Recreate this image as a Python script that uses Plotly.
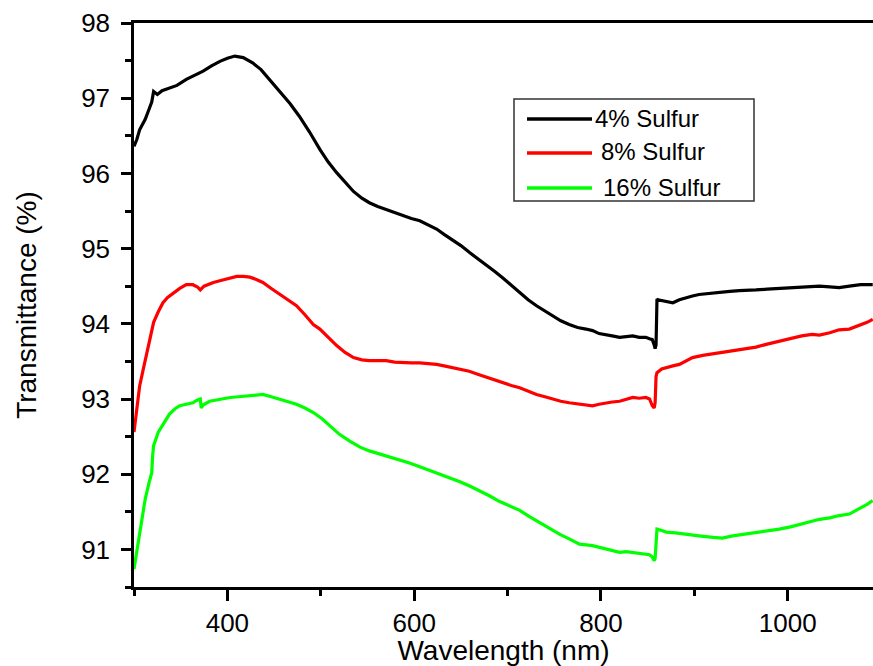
import plotly.graph_objects as go

# ---- data ----
wl_4 = [300, 303, 306, 309, 312, 316, 319, 321, 325, 330, 338, 346, 356, 365, 374, 383, 392, 400, 408, 417,
        427, 436, 445, 456, 467, 477, 488, 499, 508, 517, 526, 535, 544, 552, 561, 570, 579, 588, 597, 606,
        615, 624, 632, 641, 650, 659, 668, 677, 686, 695, 704, 713, 722, 731, 740, 748, 757, 766, 775, 784,
        791, 798, 805, 812, 820, 827, 834, 841, 848, 852, 855, 857, 858, 859, 860, 861, 865, 870, 877, 884,
        891, 898, 905, 916, 927, 938, 948, 957, 966, 978, 991, 1003, 1015, 1026, 1034, 1045, 1055, 1066, 1078, 1091]
t_4 = [96.36, 96.45, 96.58, 96.65, 96.72, 96.85, 96.95, 97.09, 97.05, 97.10, 97.14, 97.17, 97.25, 97.30, 97.36,
       97.43, 97.49, 97.53, 97.56, 97.54, 97.47, 97.38, 97.25, 97.10, 96.93, 96.76, 96.55, 96.32, 96.15, 96.01,
       95.88, 95.76, 95.67, 95.61, 95.56, 95.52, 95.47, 95.43, 95.40, 95.37, 95.32, 95.26, 95.19, 95.12, 95.04,
       94.95, 94.87, 94.79, 94.70, 94.61, 94.51, 94.41, 94.32, 94.24, 94.17, 94.10, 94.04, 93.99, 93.95, 93.93,
       93.91, 93.87, 93.86, 93.84, 93.82, 93.83, 93.84, 93.82, 93.82, 93.80, 93.79, 93.72, 93.67, 93.72, 94.33,
       94.32, 94.31, 94.30, 94.28, 94.32, 94.35, 94.37, 94.39, 94.40, 94.41, 94.43, 94.44, 94.45, 94.45, 94.46,
       94.47, 94.47, 94.48, 94.49, 94.50, 94.49, 94.48, 94.50, 94.52, 94.52]

wl_8 = [300, 303, 306, 310, 313, 317, 321, 326, 331, 336, 342, 349, 356, 363, 368, 371, 375, 385, 394, 403,
        410, 417, 424, 431, 438, 447, 456, 465, 474, 483, 492, 499, 510, 517, 526, 535, 544, 552, 561, 570,
        579, 588, 597, 606, 615, 624, 632, 641, 650, 659, 668, 677, 686, 695, 704, 713, 722, 731, 740, 748,
        757, 766, 777, 784, 791, 798, 805, 812, 820, 827, 834, 841, 848, 852, 855, 857, 858, 859, 860, 865,
        870, 877, 884, 891, 898, 909, 920, 930, 941, 953, 966, 978, 991, 1003, 1015, 1026, 1034, 1045, 1055,
        1066, 1078, 1085, 1091]
t_8 = [92.56, 92.85, 93.17, 93.40, 93.57, 93.80, 94.02, 94.16, 94.28, 94.35, 94.41, 94.47, 94.52, 94.52, 94.49,
       94.45, 94.50, 94.55, 94.58, 94.61, 94.63, 94.63, 94.62, 94.59, 94.55, 94.47, 94.39, 94.31, 94.24, 94.12,
       93.99, 93.93, 93.79, 93.71, 93.62, 93.55, 93.52, 93.51, 93.51, 93.51, 93.49, 93.48, 93.48, 93.48, 93.47,
       93.46, 93.44, 93.42, 93.40, 93.37, 93.33, 93.29, 93.25, 93.22, 93.18, 93.15, 93.10, 93.06, 93.03, 93.00,
       92.97, 92.95, 92.93, 92.92, 92.91, 92.93, 92.95, 92.96, 92.97, 93.00, 93.02, 93.01, 93.02, 93.00, 92.91,
       92.88, 92.95, 93.30, 93.35, 93.40, 93.42, 93.44, 93.46, 93.51, 93.55, 93.58, 93.60, 93.62, 93.64, 93.66,
       93.69, 93.73, 93.77, 93.80, 93.84, 93.86, 93.85, 93.88, 93.92, 93.93, 93.98, 94.02, 94.06]

wl_16 = [300, 302, 305, 308, 312, 316, 319, 320, 321, 326, 332, 338, 344, 349, 356, 363, 367, 371, 372, 374,
         381, 392, 403, 412, 420, 429, 438, 447, 456, 465, 474, 483, 492, 501, 510, 520, 531, 542, 552, 563,
         574, 584, 595, 606, 617, 627, 638, 649, 660, 670, 681, 691, 702, 713, 723, 734, 745, 756, 766, 777,
         791, 798, 805, 812, 820, 827, 834, 841, 848, 852, 855, 857, 858, 859, 860, 865, 870, 880, 891, 905,
         920, 930, 941, 953, 966, 978, 991, 1003, 1015, 1026, 1034, 1045, 1055, 1066, 1078, 1085, 1091]
t_16 = [90.74, 90.90, 91.09, 91.35, 91.67, 91.88, 92.02, 92.25, 92.38, 92.56, 92.68, 92.80, 92.87, 92.91, 92.93,
        92.95, 92.98, 93.00, 92.88, 92.92, 92.97, 93.00, 93.02, 93.03, 93.04, 93.05, 93.06, 93.03, 93.00, 92.97,
        92.93, 92.88, 92.82, 92.74, 92.64, 92.53, 92.44, 92.36, 92.31, 92.27, 92.23, 92.20, 92.15, 92.10, 92.05,
        92.00, 91.95, 91.90, 91.84, 91.78, 91.71, 91.64, 91.58, 91.52, 91.44, 91.36, 91.28, 91.20, 91.14, 91.07,
        91.05, 91.03, 91.01, 90.99, 90.96, 90.97, 90.96, 90.95, 90.94, 90.93, 90.90, 90.85, 90.88, 91.20, 91.27,
        91.25, 91.23, 91.22, 91.20, 91.18, 91.16, 91.15, 91.18, 91.20, 91.22, 91.24, 91.27, 91.30, 91.34, 91.38,
        91.40, 91.42, 91.45, 91.47, 91.55, 91.60, 91.65]

series_names = ["4% Sulfur", "8% Sulfur", "16% Sulfur"]
series_colors = ["#000000", "#ff0000", "#00ff00"]

FONT = "Arial, Liberation Sans, sans-serif"

fig = go.Figure()
for wl, t, name, col in zip([wl_4, wl_8, wl_16], [t_4, t_8, t_16], series_names, series_colors):
    fig.add_trace(go.Scatter(x=wl, y=t, mode="lines", name=name,
                             line=dict(color=col, width=3.2), showlegend=False))

# manual legend box (matching the reference's long line samples)
L, R, T, B = 134, 873, 23, 587
W, H = R - L, B - T
def px(x): return (x - L) / W
def py(y): return (B - y) / H

shapes = [dict(type="rect", xref="paper", yref="paper", x0=px(514), x1=px(754), y0=py(201), y1=py(99),
               line=dict(color="#333333", width=1.5), fillcolor="white", layer="above")]
annotations = []
leg_y = [119, 153, 188]
leg_tx = [593, 599, 601]
for yy, tx, name, col in zip(leg_y, leg_tx, series_names, series_colors):
    shapes.append(dict(type="line", xref="paper", yref="paper", x0=px(527), x1=px(592), y0=py(yy), y1=py(yy),
                       line=dict(color=col, width=3.5), layer="above"))
    annotations.append(dict(xref="paper", yref="paper", x=px(tx), y=py(yy - 1), text=name, showarrow=False,
                            xanchor="left", yanchor="middle", font=dict(family=FONT, size=24, color="black")))

fig.update_layout(
    width=873, height=666,
    margin=dict(l=L, r=873 - R, t=T, b=666 - B, autoexpand=False),
    paper_bgcolor="white", plot_bgcolor="white",
    font=dict(family=FONT, color="black"),
    shapes=shapes, annotations=annotations,
    xaxis=dict(range=[300, 1091.3], showgrid=False, zeroline=False, automargin=False,
               showline=True, linecolor="black", linewidth=2.5, mirror=True,
               ticks="outside", ticklen=11, tickwidth=2.5, tickcolor="black",
               tick0=0, dtick=200, tickfont=dict(size=26, family=FONT),
               minor=dict(ticks="outside", ticklen=6, tickwidth=2.5, tickcolor="black", dtick=100, tick0=0),
               title=dict(text="Wavelength (nm)", font=dict(size=28, family=FONT), standoff=4)),
    yaxis=dict(range=[90.5, 98], showgrid=False, zeroline=False, automargin=False,
               showline=True, linecolor="black", linewidth=2.5,
               ticks="outside", ticklen=10, tickwidth=2.5, tickcolor="black",
               tick0=0, dtick=1, tickfont=dict(size=26, family=FONT), ticklabelstandoff=6,
               minor=dict(ticks="outside", ticklen=6, tickwidth=2.5, tickcolor="black", dtick=0.5, tick0=0),
               title=dict(text="Transmittance (%)", font=dict(size=28, family=FONT), standoff=37)),
)

fig.write_html("out.html", config={"displayModeBar": False},
               post_script="document.body.style.margin='0';document.body.style.overflow='hidden';")
